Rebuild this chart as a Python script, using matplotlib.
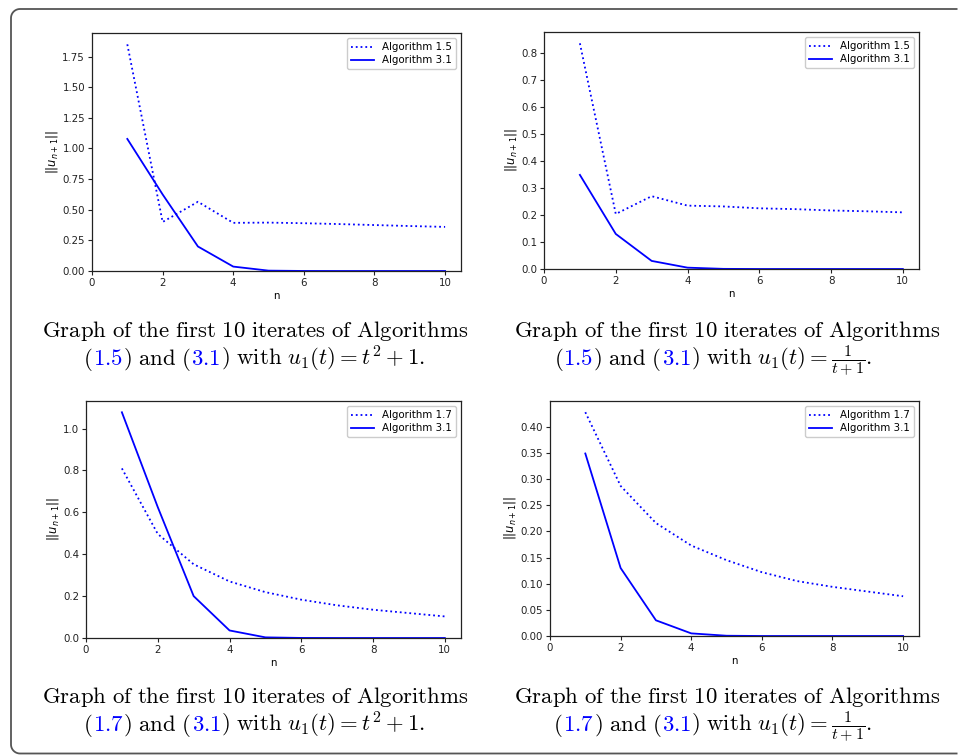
import numpy as np
import matplotlib
matplotlib.use("Agg")
import matplotlib.pyplot as plt
from matplotlib.lines import Line2D

plt.rcParams['mathtext.fontset'] = 'cm'

# iterations
n = [1, 2, 3, 4, 5, 6, 7, 8, 9, 10]

# u1(t) = t^2 + 1
alg15_sq = [1.85, 0.40, 0.565, 0.393, 0.395, 0.39, 0.383, 0.375, 0.367, 0.36]
alg31_sq = [1.078, 0.625, 0.20, 0.036, 0.003, 0.0003, 0.0, 0.0, 0.0, 0.0]
alg17_sq = [0.81, 0.497, 0.352, 0.27, 0.219, 0.183, 0.156, 0.135, 0.119, 0.103]

# u1(t) = 1/(t+1)
alg15_inv = [0.837, 0.204, 0.27, 0.235, 0.232, 0.225, 0.222, 0.217, 0.214, 0.21]
alg31_inv = [0.349, 0.13, 0.03, 0.005, 0.0005, 0.0, 0.0, 0.0, 0.0, 0.0]
alg17_inv = [0.428, 0.287, 0.216, 0.173, 0.145, 0.122, 0.105, 0.094, 0.085, 0.076]

W, H = 958, 755
fig = plt.figure(figsize=(W / 100, H / 100), dpi=100)

# open frame: top, left and bottom edges with rounded left corners (pixels)
rad, xl, yt, yb = 9, 11, H - 9, 1.5
th_top = np.linspace(np.pi / 2, np.pi, 12)
th_bot = np.linspace(np.pi, 1.5 * np.pi, 12)
fx = np.concatenate([[W - 0.5], xl + rad + rad * np.cos(th_top),
                     xl + rad + rad * np.cos(th_bot), [W - 0.5]])
fy = np.concatenate([[yt], yt - rad + rad * np.sin(th_top),
                     yb + rad + rad * np.sin(th_bot), [yb]])
fig.add_artist(Line2D(fx, fy, transform=None, color='#555555',
                      linewidth=1.3, solid_capstyle='butt'))

# axes boxes in pixels: left, top, right, bottom
boxes = [(92, 33, 461, 271), (544, 32, 919, 269),
         (86, 401, 461, 638), (550, 401, 919, 636)]
panels = [(alg15_sq, alg31_sq, 'Algorithm 1.5'),
          (alg15_inv, alg31_inv, 'Algorithm 1.5'),
          (alg17_sq, alg31_sq, 'Algorithm 1.7'),
          (alg17_inv, alg31_inv, 'Algorithm 1.7')]

fs = 7.4
for (l, t, r, b), (old, new, name) in zip(boxes, panels):
    ax = fig.add_axes([l / W, 1 - b / H, (r - l) / W, (b - t) / H])
    ax.plot(n, old, ':', color='blue', linewidth=1.3, label=name)
    ax.plot(n, new, '-', color='blue', linewidth=1.3, label='Algorithm 3.1')
    ax.set_xlim(left=0)
    ax.set_ylim(bottom=0)
    ax.set_xticks([0, 2, 4, 6, 8, 10])
    ax.tick_params(labelsize=fs, length=3, width=0.8, pad=2, colors='#222222')
    ax.set_xlabel('n', fontsize=fs, labelpad=2)
    ax.set_ylabel(r'$||u_{n+1}||$', fontsize=8.3, labelpad=1.5,
                  math_fontfamily='dejavusans')
    ax.legend(loc='upper right', fontsize=fs, framealpha=1,
              handlelength=2.2, borderpad=0.4, labelspacing=0.3)
    for s in ax.spines.values():
        s.set_linewidth(0.9)
        s.set_color('#222222')

# captions with blue references
renderer = fig.canvas.get_renderer()
cap_fs = 16.4


def put_line(pieces, xc, y):
    texts = []
    for s, c in pieces:
        texts.append(fig.text(0, y / H, s, color=c, fontsize=cap_fs,
                              va='baseline', ha='left'))
    widths = [tx.get_window_extent(renderer).width for tx in texts]
    x = xc - sum(widths) / 2
    for tx, w in zip(texts, widths):
        tx.set_x(x / W)
        x += w


def caption(xc, xc2, ybase, alg, formula):
    put_line([(r'$\mathrm{Graph\ of\ the\ first\ 10\ iterates\ of\ Algorithms}$', 'black')],
             xc, H - ybase)
    put_line([(r'$($', 'black'), (r'$\mathrm{' + alg + '}$', 'blue'),
              (r'$)\ \mathrm{and}\ ($', 'black'), (r'$\mathrm{3.1}$', 'blue'),
              (r'$)\ \mathrm{with}\ ' + formula + '.$', 'black')],
             xc2, H - ybase - 28)


caption(255, 254, 337, '1.5', r'u_1(t) = t^2 + 1')
caption(727, 713, 337, '1.5', r'u_1(t) = \frac{1}{t+1}')
caption(255, 254, 703, '1.7', r'u_1(t) = t^2 + 1')
caption(727, 713, 703, '1.7', r'u_1(t) = \frac{1}{t+1}')

fig.savefig('out.png', dpi=100)
